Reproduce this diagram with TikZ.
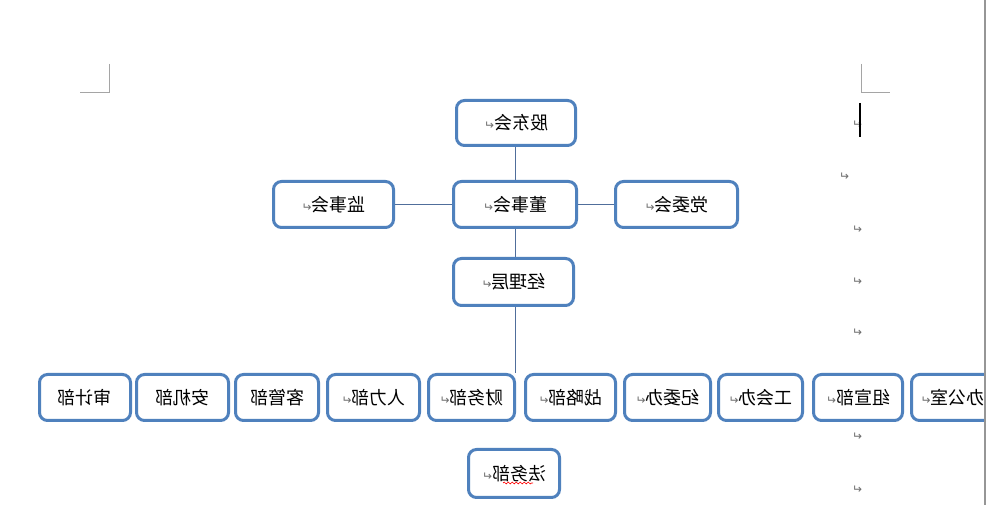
\documentclass[tikz,border=0pt]{standalone}
\usepackage{fontspec}
\usepackage{graphicx}
\usetikzlibrary{decorations.pathmorphing}
\newfontfamily\cjk{Noto Sans CJK SC}
\newfontfamily\djv{DejaVu Sans}
\definecolor{boxblue}{RGB}{79,129,189}
\definecolor{linkblue}{RGB}{80,110,155}
\definecolor{markgray}{RGB}{110,110,110}
\definecolor{cornergray}{RGB}{165,165,165}
\definecolor{edgegray}{RGB}{150,150,150}
\newcommand\pmk{{\djv\fontsize{9}{9}\selectfont\color{markgray}↵}}
\newcommand\mirtext[1]{\scalebox{-1}[1]{#1}}
\tikzset{
  orgbox/.style={draw=boxblue, line width=2.25pt, rounded corners=6pt, fill=white,
    inner sep=0pt, font=\cjk\fontsize{13.5}{15}\selectfont, text=black},
  link/.style={draw=linkblue, line width=0.75pt},
  pmark/.style={inner sep=0pt, font=\djv\fontsize{9}{9}\selectfont, text=markgray},
  crop/.style={draw=cornergray, line width=0.75pt}
}
\begin{document}
\begin{tikzpicture}[x=0.75pt,y=-0.75pt]
\useasboundingbox (0,0) rectangle (986,505);
\clip (0,0) rectangle (986,505);
\fill[white] (0,0) rectangle (986,505);
% crop marks
\draw[crop] (109,64) -- (109,93) -- (80,93);
\draw[crop] (861,64) -- (861,93) -- (890,93);
% top part
\node[orgbox, minimum width={(122-3)*0.75pt}, minimum height={(48-3)*0.75pt}] (gd) at (516,123) {\mirtext{股东会\pmk}};
\node[orgbox, minimum width={(123-3)*0.75pt}, minimum height={(49-3)*0.75pt}] (js) at (333.5,204.5) {\mirtext{监事会\pmk}};
\node[orgbox, minimum width={(126-3)*0.75pt}, minimum height={(49-3)*0.75pt}] (ds) at (515,204.5) {\mirtext{董事会\pmk}};
\node[orgbox, minimum width={(125-3)*0.75pt}, minimum height={(49-3)*0.75pt}] (dw) at (676.5,204.5) {\mirtext{党委会\pmk}};
\node[orgbox, minimum width={(123-3)*0.75pt}, minimum height={(50-3)*0.75pt}] (jl) at (513.5,282) {\mirtext{经理层\pmk}};
% bottom row
\node[orgbox, minimum width={(94-3)*0.75pt}, minimum height={(49-3)*0.75pt}] (sj) at (85,397.5) {\mirtext{审计部}};
\node[orgbox, minimum width={(95-3)*0.75pt}, minimum height={(49-3)*0.75pt}] (aj) at (182.5,397.5) {\mirtext{安机部}};
\node[orgbox, minimum width={(86-3)*0.75pt}, minimum height={(49-3)*0.75pt}] (kg) at (277,397.5) {\mirtext{客管部}};
\node[orgbox, minimum width={(95-3)*0.75pt}, minimum height={(49-3)*0.75pt}] (rl) at (373.5,397.5) {\mirtext{人力部\pmk}};
\node[orgbox, minimum width={(89-3)*0.75pt}, minimum height={(49-3)*0.75pt}] (cw) at (471.5,397.5) {\mirtext{财务部\pmk}};
\node[orgbox, minimum width={(93-3)*0.75pt}, minimum height={(49-3)*0.75pt}] (zl) at (570.5,397.5) {\mirtext{战略部\pmk}};
\node[orgbox, minimum width={(89-3)*0.75pt}, minimum height={(49-3)*0.75pt}] (jw) at (667.5,397.5) {\mirtext{纪委办\pmk}};
\node[orgbox, minimum width={(87-3)*0.75pt}, minimum height={(49-3)*0.75pt}] (gh) at (760.5,397.5) {\mirtext{工会办\pmk}};
\node[orgbox, minimum width={(92-3)*0.75pt}, minimum height={(49-3)*0.75pt}] (zx) at (858,397.5) {\mirtext{组宣部\pmk}};
\node[orgbox, minimum width={(85-3)*0.75pt}, minimum height={(49-3)*0.75pt}] (bg) at (952.5,397.5) {\mirtext{办公室\pmk}};
\node[orgbox, minimum width={(94-3)*0.75pt}, minimum height={(51-3)*0.75pt}] (fw) at (514,473.5) {\mirtext{法务部\pmk}};
% spell-check squiggle
\draw[red, line width=0.5pt, decorate, decoration={snake, amplitude=0.7pt, segment length=3pt}] (503,483) -- (533,483);
% connectors
\coordinate (spine) at (515.5,0);
\coordinate (rowtop) at (515.5,373);
\draw[link] (gd.south -| spine) -- (ds.north -| spine);
\draw[link] (ds.south -| spine) -- (jl.north -| spine);
\draw[link] (jl.south -| spine) -- (rowtop);
\draw[link] (js.east) -- (ds.west);
\draw[link] (ds.east) -- (dw.west);
% paragraph marks in the margin
\node[pmark] (m1) at (857,125) {\mirtext{↵}};
\node[pmark] (m2) at (844,177) {\mirtext{↵}};
\node[pmark] (m3) at (857,230) {\mirtext{↵}};
\node[pmark] (m4) at (857,282) {\mirtext{↵}};
\node[pmark] (m5) at (857,333) {\mirtext{↵}};
\node[pmark] (m6) at (857,437) {\mirtext{↵}};
\node[pmark] (m7) at (857,490) {\mirtext{↵}};
% text cursor
\draw[black, line width=1.5pt] (860,103) -- (860,137);
% page edge
\draw[edgegray, line width=1.5pt] (984.5,0) -- (984.5,505);
\fill[white] (985.5,0) rectangle (986,505);
\end{tikzpicture}
\end{document}
